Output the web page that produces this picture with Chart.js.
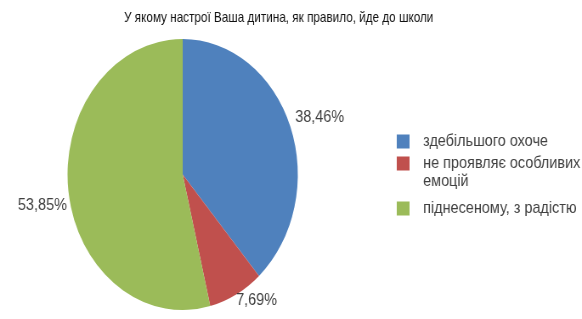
<!DOCTYPE html>
<html>
<head>
<meta charset="utf-8">
<script src="https://cdn.jsdelivr.net/npm/chart.js@4/dist/chart.umd.min.js"></script>
<style>
html,body{margin:0;padding:0;background:#fff;overflow:hidden;}
#wrap{width:685px;height:319px;transform:scaleX(0.8496);transform-origin:0 0;}
</style>
</head>
<body>
<div id="wrap"><canvas id="c" width="685" height="319"></canvas></div>
<script>
// ---- data ----
const titleText = 'У якому настрої Ваша дитина, як правило, йде до школи';
const categories = ['здебільшого охоче', 'не проявляє особливих емоцій', 'піднесеному, з радістю'];
const values = [38.46, 7.69, 53.85];
const valueLabels = ['38,46%', '7,69%', '53,85%'];
const legendLines = [['здебільшого охоче'], ['не проявляє особливих', 'емоцій'], ['піднесеному, з радістю']];

// ---- styles ----
const colors = ['#4F81BD', '#C0504D', '#9BBB59'];
const FONT = '"Liberation Sans", Arial, sans-serif';
const labelNudge = [[2, -5], [10, -6], [4, 13]];

const textPlugin = {
  id: 'textPlugin',
  afterDraw(chart) {
    const ctx = chart.ctx;
    ctx.save();
    // title (slightly condensed as in the reference)
    ctx.save();
    ctx.translate(328, 18);
    ctx.scale(0.92, 1);
    ctx.fillStyle = '#111111';
    ctx.font = '15px ' + FONT;
    ctx.textAlign = 'center';
    ctx.textBaseline = 'middle';
    ctx.fillText(titleText, 0, 0);
    ctx.restore();

    ctx.textAlign = 'center';
    ctx.textBaseline = 'middle';
    // data labels
    const meta = chart.getDatasetMeta(0);
    ctx.font = '17px ' + FONT;
    ctx.fillStyle = '#404040';
    meta.data.forEach((arc, i) => {
      const p = arc.getProps(['x', 'y', 'startAngle', 'endAngle', 'outerRadius'], true);
      const mid = (p.startAngle + p.endAngle) / 2;
      const cx = Math.cos(mid), cy = Math.sin(mid);
      const w = ctx.measureText(valueLabels[i]).width, h = 14;
      const ax = p.x + (p.outerRadius + 6) * cx;
      const ay = p.y + (p.outerRadius + 6) * cy;
      const x = ax + cx * w / 2 + labelNudge[i][0];
      const y = ay + cy * h / 2 + labelNudge[i][1];
      ctx.fillText(valueLabels[i], x, y);
    });

    // legend
    const sqX = 467, sqW = 15, sqH = 14, txtX = 498;
    const rowY = [141.5, 163.5, 208.5];
    ctx.font = '17px ' + FONT;
    ctx.textAlign = 'left';
    legendLines.forEach((lines, i) => {
      ctx.fillStyle = colors[i];
      ctx.fillRect(sqX, rowY[i] - sqH / 2, sqW, sqH);
      ctx.fillStyle = '#404040';
      lines.forEach((t, j) => ctx.fillText(t, txtX, rowY[i] + j * 18));
    });
    ctx.restore();
  }
};

new Chart(document.getElementById('c'), {
  type: 'pie',
  data: {
    labels: categories,
    datasets: [{ data: values, backgroundColor: colors, borderWidth: 0 }]
  },
  options: {
    responsive: false,
    animation: false,
    layout: { padding: { left: 79.5, right: 334.5, top: 39, bottom: 9 } },
    plugins: { legend: { display: false }, tooltip: { enabled: false }, title: { display: false } }
  },
  plugins: [textPlugin]
});
</script>
</body>
</html>
